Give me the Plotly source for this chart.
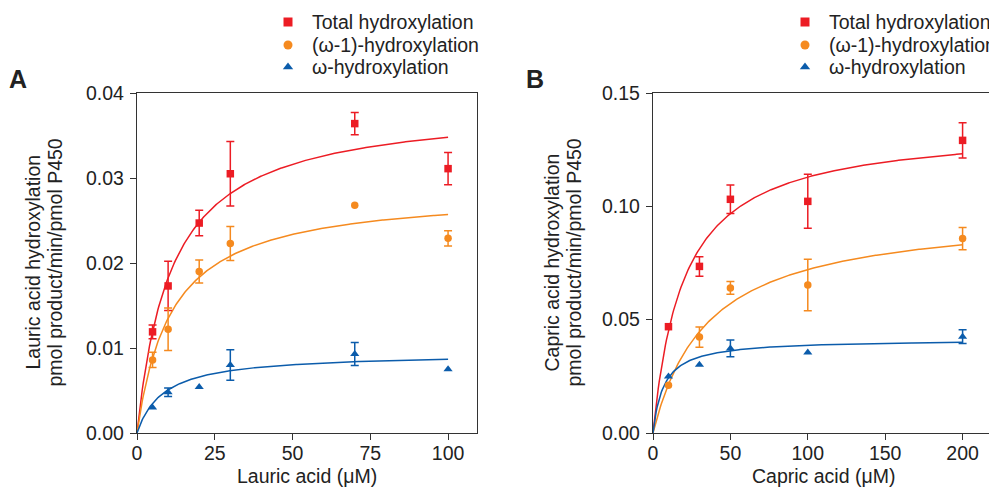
import numpy as np
import plotly.graph_objects as go

# ---------------- data ----------------
series_names = ["Total hydroxylation", "(ω-1)-hydroxylation", "ω-hydroxylation"]
colors = ["#EC1C24", "#F58A1F", "#0B5CAB"]
symbols = ["square", "circle", "triangle-up"]

lauric_conc = [5, 10, 20, 30, 70, 100]
lauric_total = [0.0119, 0.0173, 0.0247, 0.0305, 0.0364, 0.0311]
lauric_total_err = [0.0008, 0.0029, 0.0015, 0.0038, 0.0013, 0.0019]
lauric_w1 = [0.0086, 0.0122, 0.0190, 0.0223, 0.0268, 0.0229]
lauric_w1_err = [0.0009, 0.0025, 0.00135, 0.0020, None, 0.0009]
lauric_w = [0.0030, 0.0048, 0.0054, 0.0080, 0.0093, 0.0075]
lauric_w_err = [None, 0.0005, None, 0.0018, 0.00135, None]

capric_conc = [10, 30, 50, 100, 200]
capric_total = [0.0469, 0.0735, 0.1031, 0.1022, 0.1291]
capric_total_err = [None, 0.0043, 0.0063, 0.0119, 0.0078]
capric_w1 = [0.0211, 0.0423, 0.0640, 0.0653, 0.0858]
capric_w1_err = [None, 0.0045, 0.0028, 0.0114, 0.0049]
capric_w = [0.0249, 0.0301, 0.0373, 0.0355, 0.0425]
capric_w_err = [None, None, 0.0037, None, 0.0030]

# Michaelis-Menten fit parameters (Vmax, Km) estimated from the drawn curves
lauric_vmax = [0.0387, 0.0286, 0.0094]
lauric_km = [11.2, 11.2, 8.5]
capric_vmax = [0.1355, 0.0978, 0.0414]
capric_km = [20.0, 35.6, 7.0]

lauric_ticks = [0, 25, 50, 75, 100]
capric_ticks = [0, 50, 100, 150, 200]

# ---------------- figure ----------------
W, H = 997, 487
OFF = 8  # page body margin: figure is shown 8 px right/down in the window
FONT = "Liberation Sans, Arial, Helvetica, sans-serif"
TXT = "#222"
FS = 19.5


def px_x(p):
    """window pixel x -> paper fraction"""
    return (p - OFF) / W


def px_y(p):
    """window pixel y (from top) -> paper fraction"""
    return (H - (p - OFF)) / H


fig = go.Figure()


def add_panel(conc, ys, errs, vmax, km, xmax_curve, xa, ya):
    for i in range(3):
        # fitted Michaelis-Menten curve
        xc = np.linspace(0, xmax_curve, 300)
        yc = vmax[i] * xc / (km[i] + xc)
        fig.add_trace(go.Scatter(x=xc, y=yc, mode="lines",
                                 line=dict(color=colors[i], width=1.5),
                                 xaxis=xa, yaxis=ya, showlegend=False,
                                 hoverinfo="skip"))
    for i in range(3):
        y, e = ys[i], errs[i]
        with_err = [k for k in range(len(conc)) if e[k] is not None]
        no_err = [k for k in range(len(conc)) if e[k] is None]
        mk = dict(color=colors[i], symbol=symbols[i], size=8 if i == 2 else 7.5)
        if with_err:
            fig.add_trace(go.Scatter(
                x=[conc[k] for k in with_err], y=[y[k] for k in with_err],
                mode="markers", marker=mk,
                error_y=dict(type="data", array=[e[k] for k in with_err],
                             color=colors[i], thickness=1.5, width=4),
                xaxis=xa, yaxis=ya, showlegend=False))
        if no_err:
            fig.add_trace(go.Scatter(
                x=[conc[k] for k in no_err], y=[y[k] for k in no_err],
                mode="markers", marker=mk,
                xaxis=xa, yaxis=ya, showlegend=False))


add_panel(lauric_conc, [lauric_total, lauric_w1, lauric_w],
          [lauric_total_err, lauric_w1_err, lauric_w_err],
          lauric_vmax, lauric_km, 100, "x", "y")
add_panel(capric_conc, [capric_total, capric_w1, capric_w],
          [capric_total_err, capric_w1_err, capric_w_err],
          capric_vmax, capric_km, 200, "x2", "y2")

# ---- legend glyphs drawn on an invisible window-pixel overlay axis ----
legend_rows_px = [22, 45, 67]
legend_marker_x_px = [288, 805]
legend_text_x_px = [310, 827]
for lx in legend_marker_x_px:
    for i in range(3):
        fig.add_trace(go.Scatter(x=[lx], y=[legend_rows_px[i]], mode="markers",
                                 marker=dict(color=colors[i], symbol=symbols[i], size=9),
                                 xaxis="x3", yaxis="y3", showlegend=False,
                                 hoverinfo="skip", cliponaxis=False))

ydom = [px_y(433), px_y(93)]
axis_common = dict(showline=True, linecolor="#333", linewidth=1.3, mirror=True,
                   ticks="outside", ticklen=6, tickwidth=1.3, tickcolor="#333",
                   showgrid=False, zeroline=False,
                   tickfont=dict(family=FONT, size=FS, color=TXT))
xaxis_extra = dict(ticklabelstandoff=-4)
yaxis_extra = dict(ticklabelstandoff=2)

fig.update_layout(
    width=W, height=H,
    margin=dict(l=0, r=0, t=0, b=0, autoexpand=False),
    paper_bgcolor="white", plot_bgcolor="rgba(0,0,0,0)",
    font=dict(family=FONT, size=FS, color=TXT),
    showlegend=False,
    xaxis=dict(domain=[px_x(137), px_x(477)], range=[0, 109.3],
               tickvals=lauric_ticks, **axis_common, **xaxis_extra),
    yaxis=dict(domain=ydom, range=[0, 0.04], dtick=0.01, tickformat=".2f",
               **axis_common, **yaxis_extra),
    xaxis2=dict(domain=[px_x(653), px_x(992)], range=[0, 219],
                tickvals=capric_ticks, anchor="y2", **axis_common, **xaxis_extra),
    yaxis2=dict(domain=ydom, range=[0, 0.15], dtick=0.05, tickformat=".2f",
                anchor="x2", **axis_common, **yaxis_extra),
    xaxis3=dict(domain=[0, 1], range=[OFF, W + OFF], visible=False, anchor="y3",
                fixedrange=True),
    yaxis3=dict(domain=[0, 1], range=[H + OFF, OFF], visible=False, anchor="x3",
                fixedrange=True),
)

ann = []
# y-axis titles (two lines each)
for cx, first in [(33, "Lauric acid hydroxylation"), (552, "Capric acid hydroxylation")]:
    ann.append(dict(text=first, x=px_x(cx), y=px_y(262.5), textangle=-90))
    ann.append(dict(text="pmol product/min/pmol P450", x=px_x(cx + 22), y=px_y(262.5),
                    textangle=-90))
ann.append(dict(text="Lauric acid (μM)", x=px_x(307), y=px_y(475.5)))
ann.append(dict(text="Capric acid (μM)", x=px_x(823), y=px_y(475.5)))
for a in ann:
    a.update(xanchor="center", font=dict(family=FONT, size=FS, color=TXT))
for tx in legend_text_x_px:
    for i in range(3):
        ann.append(dict(text=series_names[i], x=px_x(tx), y=px_y(legend_rows_px[i]),
                        xanchor="left", font=dict(family=FONT, size=FS, color=TXT)))
ann.append(dict(text="<b>A</b>", x=px_x(18), y=px_y(79), xanchor="center",
                font=dict(family=FONT, size=25, color=TXT)))
ann.append(dict(text="<b>B</b>", x=px_x(535), y=px_y(79), xanchor="center",
                font=dict(family=FONT, size=25, color=TXT)))
for a in ann:
    a.update(xref="paper", yref="paper", showarrow=False, yanchor="middle")
fig.update_layout(annotations=ann)

fig.write_html("out.html")
